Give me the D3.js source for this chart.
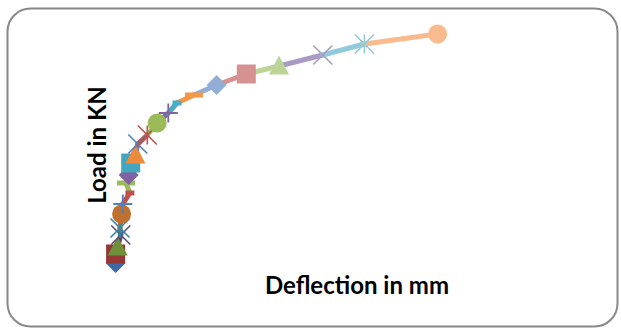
<!DOCTYPE html>
<html>
<head>
<meta charset="utf-8">
<script src="https://cdn.jsdelivr.net/npm/d3@7"></script>
<style>
  html, body { margin: 0; padding: 0; background: #fff; }
  svg { display: block; }
</style>
</head>
<body>
<svg id="chart" width="621" height="329"></svg>
<script>
// ---- data ----
const deflection = [0.56, 0.56, 0.76, 1.08, 1.00, 1.16, 1.28, 1.99, 1.60, 1.87, 2.07, 2.54,
                    2.78, 3.73, 4.72, 5.83, 6.70, 8.40, 10.66, 13.63, 16.90, 21.28, 25.44, 32.76];
const load       = [7, 16, 23, 35, 42, 56, 66, 77, 87, 95, 107, 115,
                    126, 135, 147, 157, 167, 175, 185, 196, 204, 215, 226, 236];
const markerTypes = ["diamond", "square", "triangle", "x", "star", "circle", "plus", "dash", "longdash"];
const seriesColors = [
  "#3D6AA6", "#953735", "#71903A", "#604A7B", "#2F8AA3", "#C0702E",
  "#4F81BD", "#C0504D", "#9BBB59", "#7E62A2", "#42A6C0", "#EE8A3C",
  "#4F81BD", "#C0504D", "#9BBB59", "#8064A2", "#4BACC6", "#F79646",
  "#92ADD6", "#D69291", "#BCD496", "#AA9BC4", "#90CADB", "#F9BA8E"
];
const xTitle = "Deflection in mm";
const yTitle = "Load in KN";

const svg = d3.select("#chart");

// outer chart border
svg.append("rect")
  .attr("x", 7.5).attr("y", 8.5)
  .attr("width", 610).attr("height", 318)
  .attr("rx", 23).attr("ry", 23)
  .attr("fill", "#fff")
  .attr("stroke", "#888").attr("stroke-width", 2);

const x = d3.scaleLinear().domain([0, 40]).range([110, 510]);
const y = d3.scaleLinear().domain([0, 240]).range([270, 30]);

const pts = deflection.map((d, i) => ({ x: d, y: load[i], i }));

// line segments, each coloured like the point it leads to
const seg = svg.append("g");
for (let i = 1; i < pts.length; i++) {
  seg.append("line")
    .attr("x1", x(pts[i - 1].x)).attr("y1", y(pts[i - 1].y))
    .attr("x2", x(pts[i].x)).attr("y2", y(pts[i].y))
    .attr("stroke", seriesColors[i])
    .attr("stroke-width", 5)
    .attr("stroke-linecap", "round");
}

// markers
const mk = svg.append("g");
pts.forEach((p, i) => {
  const cx = x(p.x), cy = y(p.y);
  const c = seriesColors[i];
  const t = markerTypes[i % markerTypes.length];
  const g = mk.append("g").attr("transform", `translate(${cx},${cy})`);
  const s = 9.5;
  if (t === "diamond") {
    g.append("path").attr("d", `M0,${-s - 0.5}L${s + 0.5},0L0,${s + 0.5}L${-s - 0.5},0Z`).attr("fill", c);
  } else if (t === "square") {
    g.append("rect").attr("x", -s).attr("y", -s).attr("width", 2 * s).attr("height", 2 * s).attr("fill", c);
  } else if (t === "triangle") {
    g.append("path").attr("d", `M0,${-s - 1}L${s + 0.5},${s - 1}L${-s - 0.5},${s - 1}Z`).attr("fill", c);
  } else if (t === "circle") {
    g.append("circle").attr("r", s).attr("fill", c);
  } else if (t === "x") {
    g.append("path").attr("d", `M${-s},${-s}L${s},${s}M${-s},${s}L${s},${-s}`)
      .attr("stroke", c).attr("stroke-width", 1.6).attr("fill", "none");
  } else if (t === "star") {
    g.append("path").attr("d", `M${-s},${-s}L${s},${s}M${-s},${s}L${s},${-s}M0,${-s}L0,${s}`)
      .attr("stroke", c).attr("stroke-width", 1.6).attr("fill", "none");
  } else if (t === "plus") {
    g.append("path").attr("d", `M${-s},0L${s},0M0,${-s}L0,${s}`)
      .attr("stroke", c).attr("stroke-width", 1.8).attr("fill", "none");
  } else if (t === "dash") {
    g.append("rect").attr("x", -4.5).attr("y", -2.5).attr("width", 9).attr("height", 5).attr("fill", c);
  } else if (t === "longdash") {
    g.append("rect").attr("x", -9).attr("y", -2.5).attr("width", 18).attr("height", 5).attr("fill", c);
  }
});

// axis titles
svg.append("text")
  .attr("x", 357).attr("y", 294)
  .attr("text-anchor", "middle")
  .attr("font-family", "Lato, 'Liberation Sans', sans-serif")
  .attr("font-weight", "bold")
  .attr("font-size", 24)
  .attr("fill", "#000")
  .text(xTitle);

svg.append("text")
  .attr("transform", "translate(106,145) rotate(-90)")
  .attr("text-anchor", "middle")
  .attr("font-family", "Lato, 'Liberation Sans', sans-serif")
  .attr("font-weight", "bold")
  .attr("font-size", 24)
  .attr("fill", "#000")
  .text(yTitle);
</script>
</body>
</html>
